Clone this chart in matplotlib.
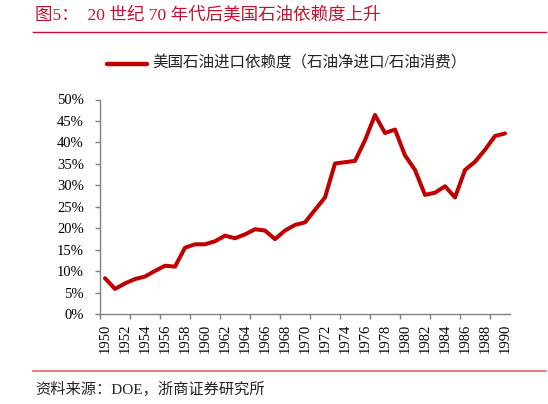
import matplotlib
matplotlib.use('Agg')
import matplotlib.pyplot as plt
from matplotlib.lines import Line2D

# datos
anios = list(range(1950, 1991))
dependencia = [8.4, 5.9, 7.2, 8.2, 8.8, 10.1, 11.3, 11.1, 15.5, 16.3,
               16.3, 17.0, 18.3, 17.7, 18.6, 19.8, 19.5, 17.5, 19.5, 20.8,
               21.4, 24.3, 27.2, 35.1, 35.4, 35.7, 40.5, 46.4, 42.2, 43.0,
               37.0, 33.6, 27.8, 28.3, 29.8, 27.2, 33.6, 35.5, 38.3, 41.5,
               42.1]
etiquetas_y = ['0%', '5%', '10%', '15%', '20%', '25%', '30%', '35%', '40%', '45%', '50%']
titulo = '图5：  20 世纪 70 年代后美国石油依赖度上升'
leyenda = '美国石油进口依赖度（石油净进口/石油消费）'
fuente = '资料来源：DOE，浙商证券研究所'

rojo = '#C00000'
gris = '#808080'
fuentes = ['Liberation Serif', 'Noto Sans CJK SC', 'DejaVu Sans']
plt.rcParams['font.family'] = fuentes

fig = plt.figure(figsize=(5.48, 4.04), dpi=100)
ax = fig.add_axes([100 / 548, 1 - 314.3 / 404, 410 / 548, 214.8 / 404])

x = list(range(len(anios)))
ax.plot(x, [v / 100 for v in dependencia], color=rojo, lw=2.9,
        solid_joinstyle='round', solid_capstyle='round')

ax.set_xlim(-0.5, len(anios) - 0.5)
ax.set_ylim(0, 0.5)

for s in ['top', 'right']:
    ax.spines[s].set_visible(False)
for s in ['left', 'bottom']:
    ax.spines[s].set_color(gris)
    ax.spines[s].set_linewidth(1.0)

ax.set_yticks([i * 0.05 for i in range(len(etiquetas_y))])
ax.set_yticklabels(etiquetas_y)
ax.tick_params(axis='y', direction='out', length=3.6, width=1, color=gris,
               labelsize=10.5, pad=8)

# marcas cada 3 categorias, etiquetas cada 2 anios
ax.set_xticks([-0.5 + 3 * k for k in range(14)])
ax.set_xticklabels([])
ax.tick_params(axis='x', which='major', direction='out', length=3.6, width=1, color=gris)
ax.set_xticks(x[::2], minor=True)
ax.set_xticklabels([str(a) for a in anios[::2]], minor=True, rotation=90)
ax.tick_params(axis='x', which='minor', length=0, labelsize=10.5, pad=7)

# leyenda
fig.add_artist(Line2D([107 / 548, 147 / 548], [1 - 63.5 / 404] * 2, color=rojo,
                      lw=3.2, solid_capstyle='round'))
fig.text(152 / 548, 1 - 63.5 / 404, leyenda, fontsize=11.2, va='center', ha='left',
         color='#222222')

# titulo y fuente
fig.text(35 / 548, 1 - 15 / 404, titulo, fontsize=12.6, va='center', ha='left',
         color='#C8102E')
fig.add_artist(Line2D([33 / 548, 546 / 548], [1 - 32 / 404] * 2, color='#C8102E', lw=1.0))
fig.add_artist(Line2D([33 / 548, 546 / 548], [1 - 371 / 404] * 2, color='#E06666', lw=1.2))
fig.text(35 / 548, 1 - 389 / 404, fuente, fontsize=11, va='center', ha='left',
         color='#222222')

fig.savefig('out.png', dpi=100)
